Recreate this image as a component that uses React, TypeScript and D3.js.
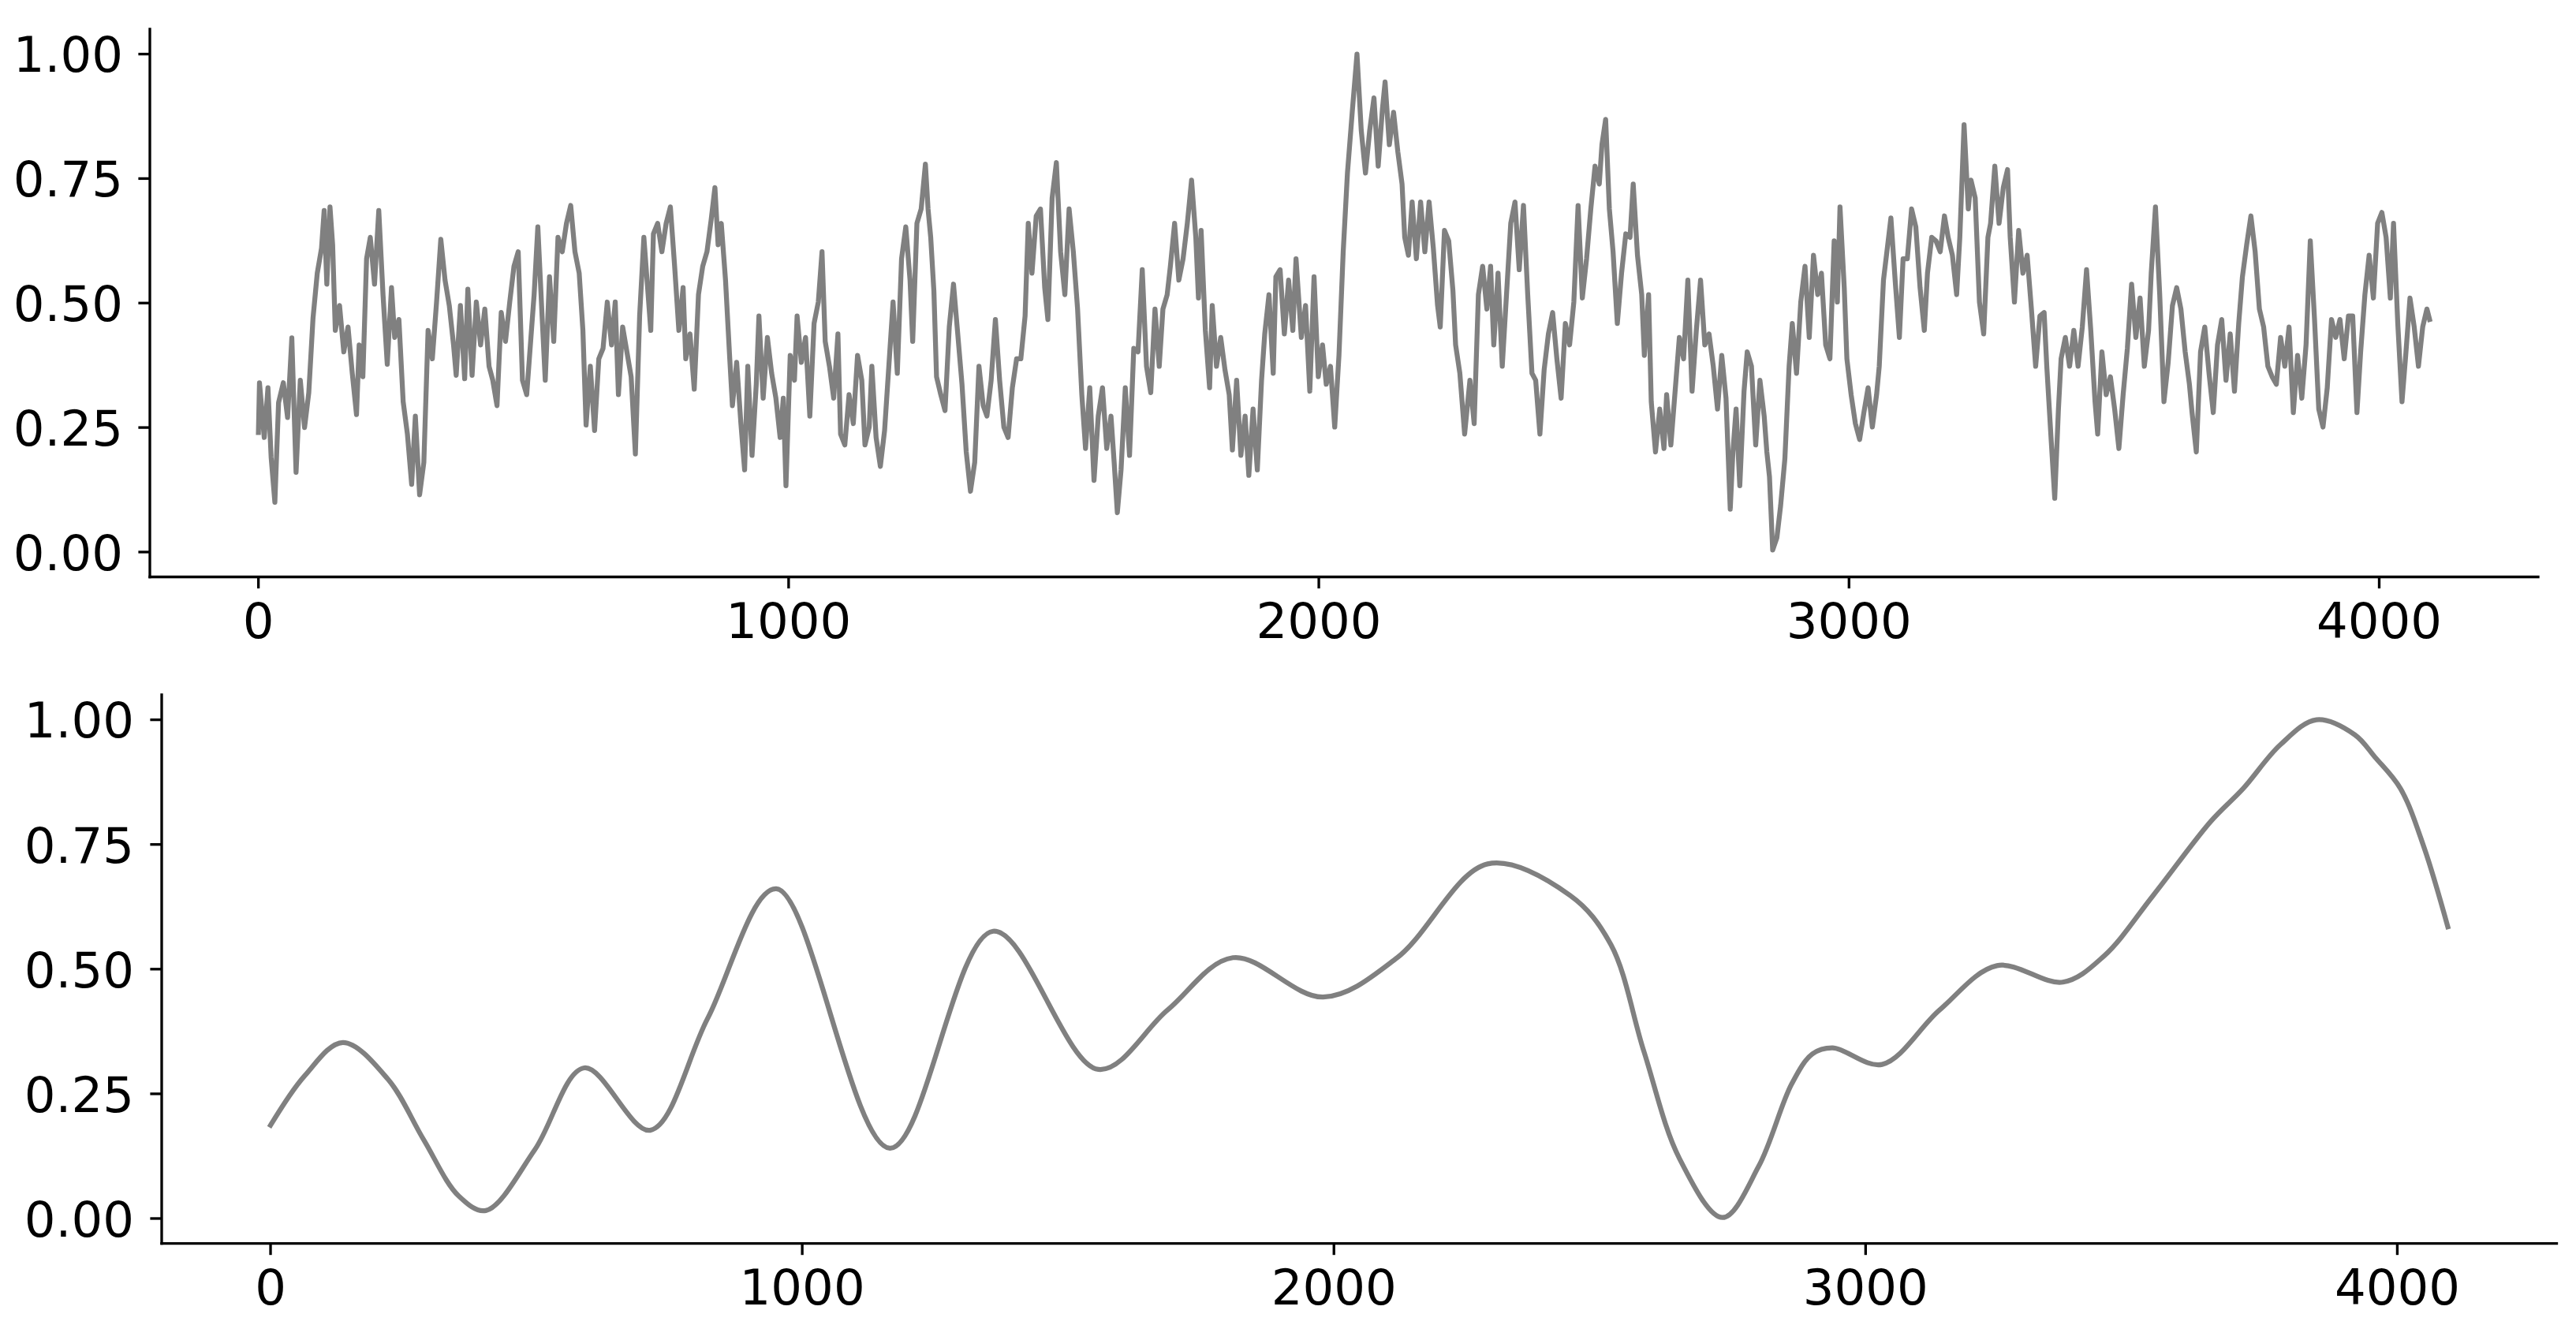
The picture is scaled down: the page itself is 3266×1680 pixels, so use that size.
import * as d3 from "d3";

// tick positions shared by both panels
const xTicks = [0, 1000, 2000, 3000, 4000];
const yTicks = [0, 0.25, 0.5, 0.75, 1];

// raw signal, [sample index, normalised value]
const noisyTrace: [number, number][] = [
  [0, 0.24], [2, 0.34], [11, 0.23], [18, 0.33], [24, 0.19], [31, 0.10], [38, 0.30], [47, 0.34], [55, 0.27], [63, 0.43],
  [71, 0.16], [79, 0.345], [87, 0.25], [95, 0.32], [103, 0.47], [111, 0.56], [119, 0.61], [124, 0.686], [129, 0.538], [135, 0.693],
  [140, 0.617], [145, 0.445], [153, 0.495], [161, 0.402], [169, 0.452], [177, 0.359], [185, 0.276], [190, 0.416], [197, 0.352], [204, 0.589],
  [211, 0.632], [219, 0.538], [227, 0.686], [235, 0.517], [243, 0.377], [251, 0.531], [257, 0.431], [265, 0.467], [273, 0.302], [281, 0.237],
  [289, 0.136], [296, 0.273], [304, 0.115], [312, 0.18], [320, 0.445], [328, 0.388], [336, 0.502], [344, 0.628], [352, 0.546], [360, 0.495],
  [368, 0.416], [373, 0.355], [381, 0.495], [389, 0.348], [395, 0.528], [403, 0.355], [411, 0.502], [419, 0.416], [427, 0.488], [435, 0.373],
  [442, 0.345], [450, 0.294], [458, 0.481], [466, 0.423], [474, 0.502], [482, 0.574], [490, 0.603], [498, 0.345], [506, 0.316], [514, 0.431],
  [520, 0.517], [527, 0.653], [535, 0.474], [541, 0.345], [549, 0.553], [557, 0.423], [565, 0.632], [573, 0.603], [581, 0.66], [589, 0.696],
  [597, 0.603], [605, 0.56], [612, 0.445], [618, 0.255], [626, 0.373], [634, 0.244], [642, 0.388], [650, 0.409], [658, 0.502], [666, 0.416],
  [673, 0.502], [679, 0.316], [687, 0.452], [695, 0.402], [703, 0.352], [711, 0.197], [719, 0.474], [727, 0.632], [732, 0.56], [740, 0.445],
  [745, 0.639], [753, 0.66], [761, 0.603], [769, 0.66], [777, 0.693], [785, 0.574], [793, 0.445], [801, 0.531], [806, 0.388], [814, 0.438],
  [822, 0.327], [830, 0.517], [838, 0.574], [846, 0.603], [854, 0.668], [861, 0.732], [867, 0.617], [873, 0.66], [881, 0.546], [889, 0.388],
  [894, 0.294], [902, 0.381], [910, 0.258], [917, 0.165], [923, 0.373], [931, 0.194], [939, 0.337], [944, 0.474], [952, 0.309], [960, 0.431],
  [968, 0.359], [976, 0.309], [984, 0.23], [990, 0.309], [995, 0.133], [1003, 0.395], [1011, 0.345], [1016, 0.474], [1024, 0.381], [1032, 0.431],
  [1040, 0.273], [1048, 0.459], [1056, 0.502], [1063, 0.603], [1069, 0.423], [1077, 0.373], [1085, 0.309], [1093, 0.438], [1098, 0.237], [1106, 0.215],
  [1114, 0.316], [1122, 0.258], [1130, 0.395], [1138, 0.345], [1144, 0.215], [1152, 0.251], [1157, 0.373], [1165, 0.23], [1173, 0.172], [1181, 0.244],
  [1189, 0.373], [1197, 0.502], [1205, 0.359], [1213, 0.589], [1221, 0.653], [1229, 0.546], [1234, 0.423], [1242, 0.66], [1250, 0.689], [1258, 0.779],
  [1263, 0.689], [1268, 0.632], [1274, 0.524], [1279, 0.352], [1287, 0.316], [1295, 0.284], [1303, 0.452], [1311, 0.538], [1319, 0.438], [1327, 0.337],
  [1335, 0.201], [1343, 0.122], [1351, 0.18], [1359, 0.373], [1367, 0.294], [1374, 0.273], [1382, 0.345], [1390, 0.467], [1398, 0.345], [1406, 0.251],
  [1414, 0.23], [1422, 0.33], [1430, 0.388], [1438, 0.388], [1446, 0.474], [1452, 0.66], [1459, 0.56], [1467, 0.675], [1475, 0.689], [1483, 0.531],
  [1489, 0.467], [1497, 0.711], [1505, 0.782], [1513, 0.603], [1521, 0.517], [1529, 0.689], [1537, 0.603], [1545, 0.488], [1553, 0.316], [1560, 0.208],
  [1568, 0.33], [1576, 0.144], [1584, 0.273], [1592, 0.33], [1600, 0.208], [1608, 0.273], [1614, 0.18], [1620, 0.079], [1627, 0.165], [1635, 0.33],
  [1643, 0.194], [1651, 0.409], [1659, 0.402], [1667, 0.567], [1675, 0.373], [1683, 0.32], [1691, 0.488], [1699, 0.373], [1706, 0.488], [1714, 0.517],
  [1720, 0.574], [1728, 0.66], [1736, 0.546], [1744, 0.589], [1752, 0.66], [1760, 0.747], [1768, 0.632], [1773, 0.51], [1778, 0.646], [1786, 0.445],
  [1794, 0.33], [1799, 0.495], [1807, 0.373], [1815, 0.431], [1823, 0.366], [1831, 0.316], [1837, 0.205], [1845, 0.345], [1853, 0.194], [1861, 0.273],
  [1868, 0.154], [1876, 0.287], [1884, 0.165], [1892, 0.345], [1898, 0.438], [1906, 0.517], [1914, 0.359], [1919, 0.553], [1927, 0.567], [1935, 0.438],
  [1943, 0.546], [1951, 0.445], [1957, 0.589], [1967, 0.431], [1975, 0.495], [1983, 0.323], [1991, 0.553], [1999, 0.352], [2007, 0.416], [2014, 0.337],
  [2022, 0.373], [2030, 0.251], [2038, 0.395], [2046, 0.603], [2054, 0.761], [2063, 0.883], [2072, 1.0], [2080, 0.847], [2088, 0.761], [2096, 0.847],
  [2104, 0.912], [2112, 0.775], [2120, 0.89], [2125, 0.944], [2133, 0.818], [2141, 0.883], [2149, 0.804], [2157, 0.739], [2162, 0.632], [2169, 0.596],
  [2176, 0.703], [2184, 0.589], [2192, 0.703], [2200, 0.603], [2208, 0.703], [2216, 0.61], [2224, 0.495], [2229, 0.452], [2237, 0.646], [2245, 0.625],
  [2253, 0.524], [2258, 0.416], [2266, 0.359], [2275, 0.237], [2285, 0.345], [2293, 0.258], [2301, 0.517], [2309, 0.574], [2317, 0.488], [2324, 0.574],
  [2330, 0.416], [2338, 0.56], [2346, 0.373], [2354, 0.517], [2362, 0.66], [2370, 0.703], [2378, 0.567], [2386, 0.696], [2394, 0.517], [2402, 0.359],
  [2409, 0.345], [2417, 0.237], [2425, 0.366], [2433, 0.438], [2441, 0.481], [2449, 0.388], [2457, 0.309], [2465, 0.459], [2473, 0.416], [2481, 0.502],
  [2489, 0.696], [2497, 0.51], [2505, 0.589], [2513, 0.689], [2521, 0.775], [2529, 0.739], [2534, 0.818], [2541, 0.869], [2548, 0.689], [2555, 0.603],
  [2563, 0.459], [2571, 0.56], [2579, 0.639], [2587, 0.632], [2593, 0.739], [2601, 0.596], [2609, 0.517], [2614, 0.395], [2622, 0.517], [2627, 0.302],
  [2635, 0.201], [2643, 0.287], [2651, 0.208], [2656, 0.316], [2664, 0.215], [2672, 0.323], [2680, 0.431], [2688, 0.388], [2696, 0.546], [2704, 0.323],
  [2712, 0.445], [2720, 0.546], [2728, 0.416], [2736, 0.438], [2744, 0.373], [2752, 0.287], [2760, 0.395], [2768, 0.309], [2776, 0.086], [2781, 0.201],
  [2787, 0.287], [2794, 0.133], [2802, 0.323], [2808, 0.402], [2816, 0.373], [2824, 0.215], [2832, 0.345], [2840, 0.273], [2845, 0.201], [2850, 0.151],
  [2856, 0.004], [2864, 0.029], [2871, 0.093], [2879, 0.187], [2887, 0.373], [2893, 0.459], [2901, 0.359], [2909, 0.502], [2917, 0.574], [2925, 0.431],
  [2933, 0.596], [2941, 0.517], [2948, 0.56], [2956, 0.416], [2964, 0.388], [2972, 0.625], [2978, 0.502], [2983, 0.693], [2991, 0.531], [2996, 0.388],
  [3004, 0.316], [3012, 0.258], [3020, 0.226], [3028, 0.28], [3036, 0.33], [3044, 0.251], [3052, 0.316], [3057, 0.373], [3065, 0.546], [3073, 0.617],
  [3079, 0.671], [3087, 0.546], [3095, 0.431], [3102, 0.589], [3110, 0.589], [3118, 0.689], [3126, 0.653], [3134, 0.531], [3142, 0.445], [3148, 0.56],
  [3156, 0.632], [3164, 0.625], [3172, 0.603], [3180, 0.675], [3187, 0.632], [3195, 0.596], [3203, 0.517], [3209, 0.632], [3217, 0.858], [3225, 0.689],
  [3230, 0.747], [3238, 0.711], [3246, 0.502], [3254, 0.438], [3262, 0.632], [3267, 0.66], [3275, 0.775], [3283, 0.66], [3291, 0.732], [3299, 0.768],
  [3304, 0.632], [3312, 0.502], [3320, 0.646], [3328, 0.56], [3336, 0.596], [3344, 0.488], [3352, 0.373], [3360, 0.474], [3368, 0.481], [3373, 0.373],
  [3381, 0.23], [3388, 0.108], [3395, 0.287], [3400, 0.388], [3408, 0.431], [3416, 0.373], [3424, 0.445], [3432, 0.373], [3440, 0.452], [3448, 0.567],
  [3456, 0.445], [3464, 0.302], [3469, 0.237], [3477, 0.402], [3485, 0.316], [3493, 0.352], [3501, 0.287], [3509, 0.208], [3517, 0.316], [3525, 0.409],
  [3533, 0.538], [3541, 0.431], [3549, 0.51], [3557, 0.373], [3565, 0.445], [3570, 0.56], [3578, 0.693], [3586, 0.517], [3594, 0.302], [3602, 0.381],
  [3610, 0.495], [3618, 0.531], [3626, 0.488], [3634, 0.402], [3642, 0.337], [3647, 0.28], [3655, 0.201], [3663, 0.402], [3671, 0.452], [3679, 0.359],
  [3687, 0.28], [3695, 0.416], [3703, 0.467], [3711, 0.345], [3719, 0.438], [3727, 0.323], [3735, 0.459], [3742, 0.553], [3750, 0.617], [3758, 0.675],
  [3766, 0.603], [3774, 0.488], [3782, 0.452], [3790, 0.373], [3798, 0.352], [3806, 0.337], [3814, 0.431], [3822, 0.373], [3830, 0.452], [3838, 0.28],
  [3846, 0.395], [3854, 0.309], [3862, 0.416], [3870, 0.625], [3878, 0.467], [3886, 0.287], [3894, 0.251], [3902, 0.33], [3910, 0.467], [3918, 0.431],
  [3926, 0.467], [3934, 0.388], [3942, 0.474], [3950, 0.474], [3958, 0.28], [3965, 0.402], [3973, 0.517], [3981, 0.596], [3989, 0.51], [3997, 0.66],
  [4005, 0.682], [4013, 0.632], [4021, 0.51], [4027, 0.66], [4035, 0.459], [4043, 0.302], [4050, 0.395], [4058, 0.51], [4066, 0.452], [4074, 0.373],
  [4082, 0.452], [4090, 0.488], [4095, 0.467],
];

// smoothed version, [sample index, normalised value]
const smoothTrace: [number, number][] = [
  [0, 0.187], [64, 0.286], [136, 0.353], [221, 0.279], [288, 0.158], [354, 0.045], [405, 0.016], [497, 0.138],
  [590, 0.302], [714, 0.177], [822, 0.401], [951, 0.661], [1165, 0.141], [1359, 0.576], [1557, 0.299], [1687, 0.418],
  [1810, 0.523], [1980, 0.444], [2119, 0.523], [2289, 0.711], [2444, 0.648], [2521, 0.549], [2583, 0.335], [2650, 0.12],
  [2731, 0.002], [2799, 0.105], [2861, 0.27], [2900, 0.33], [2938, 0.342], [3031, 0.309], [3139, 0.418], [3247, 0.507],
  [3371, 0.474], [3448, 0.526], [3541, 0.648], [3649, 0.796], [3710, 0.862], [3780, 0.95], [3848, 1.0], [3920, 0.97],
  [3958, 0.925], [4006, 0.862], [4050, 0.745], [4095, 0.585],
];

const FONT = "'DejaVu Sans', sans-serif";
const FONT_SIZE = 62.5;
const LINE_W = 6.25;
const SPINE_W = 3.33;
const TICK_LEN = 14.6;

type Frame = { left: number; right: number; top: number; bottom: number; labelGap: number };

const topFrame: Frame = { left: 190, right: 3218, top: 37, bottom: 731.5, labelGap: 34 };
const bottomFrame: Frame = { left: 205, right: 3241.5, top: 881, bottom: 1576.6, labelGap: 35 };

function Panel({ frame, data, curve }: { frame: Frame; data: [number, number][]; curve: d3.CurveFactory }) {
  // matplotlib-style 5% margins around 0..4095 and 0..1
  const x = d3.scaleLinear().domain([-204.75, 4299.75]).range([frame.left, frame.right]);
  const y = d3.scaleLinear().domain([-0.05, 1.05]).range([frame.bottom, frame.top]);

  const line = d3
    .line<[number, number]>()
    .x((d) => x(d[0]))
    .y((d) => y(d[1]))
    .curve(curve);

  return (
    <g>
      <path
        d={line(data) ?? ""}
        fill="none"
        stroke="#808080"
        strokeWidth={LINE_W}
        strokeLinejoin="round"
        strokeLinecap="square"
      />

      {/* spines: left and bottom only */}
      <line x1={frame.left} x2={frame.left} y1={frame.top} y2={frame.bottom} stroke="#000" strokeWidth={SPINE_W} strokeLinecap="square" />
      <line x1={frame.left} x2={frame.right} y1={frame.bottom} y2={frame.bottom} stroke="#000" strokeWidth={SPINE_W} strokeLinecap="square" />

      {xTicks.map((t) => (
        <g key={"x" + t}>
          <line x1={x(t)} x2={x(t)} y1={frame.bottom} y2={frame.bottom + TICK_LEN} stroke="#000" strokeWidth={SPINE_W} />
          <text
            x={x(t)}
            y={frame.bottom + 77}
            textAnchor="middle"
            fontFamily={FONT}
            fontSize={FONT_SIZE}
            fill="#000"
          >
            {t}
          </text>
        </g>
      ))}

      {yTicks.map((t) => (
        <g key={"y" + t}>
          <line x1={frame.left - TICK_LEN} x2={frame.left} y1={y(t)} y2={y(t)} stroke="#000" strokeWidth={SPINE_W} />
          <text
            x={frame.left - frame.labelGap}
            y={y(t) + 22.8}
            textAnchor="end"
            fontFamily={FONT}
            fontSize={FONT_SIZE}
            fill="#000"
          >
            {d3.format(".2f")(t)}
          </text>
        </g>
      ))}
    </g>
  );
}

export default function App() {
  return (
    <div style={{ position: "absolute", left: 0, top: 0, background: "#fff" }}>
      <svg width={3266} height={1680} style={{ display: "block" }}>
        <rect width={3266} height={1680} fill="#fff" />
        <Panel frame={topFrame} data={noisyTrace} curve={d3.curveLinear} />
        <Panel frame={bottomFrame} data={smoothTrace} curve={d3.curveCatmullRom.alpha(0.5)} />
      </svg>
    </div>
  );
}
